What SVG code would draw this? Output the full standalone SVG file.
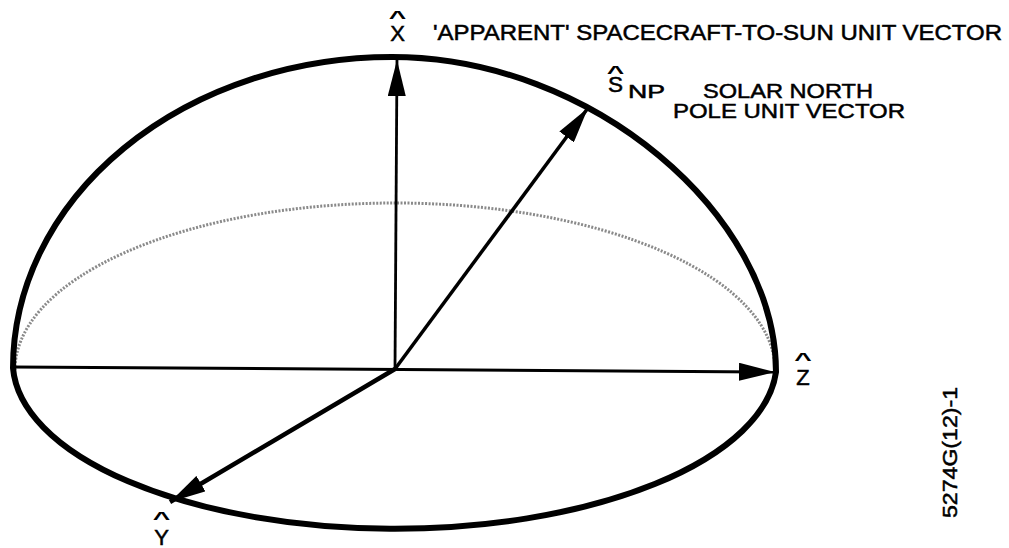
<svg xmlns="http://www.w3.org/2000/svg" width="1009" height="548" viewBox="0 0 1009 548">
<style>
.t{font-family:"Liberation Sans",Arial,sans-serif;font-size:22px;fill:#000;stroke:#000;stroke-width:0.5px}
.hat{font-family:"Liberation Sans",Arial,sans-serif;font-size:24px;font-weight:bold;fill:#000;text-anchor:middle}
.ax{fill:none;stroke:#000;marker-end:url(#ah)}
</style>
<defs>
<marker id="ah" markerUnits="userSpaceOnUse" markerWidth="36" markerHeight="18" viewBox="0 0 36 18" refX="36" refY="9" orient="auto">
<path d="M0,0 L36,9 L0,18 Z" fill="#000"/>
</marker>
</defs>
<rect width="1009" height="548" fill="#fff"/>
<g id="hemisphere">
<path id="equator-hidden" d="M15,370 A380,167 0 0 1 775,370" fill="none" stroke="#8a8a8a" stroke-width="3" stroke-dasharray="2 1.5"/>
<path id="outline" d="M13,368 A379,311 0 0 1 392,57 C592,57 776,215 776,372 A382,167 0 0 1 13,368 Z" fill="none" stroke="#000" stroke-width="6"/>
</g>
<g id="connectors">
<line id="z-axis" class="ax" x1="13" y1="367" x2="775" y2="372" stroke-width="3"/>
<line id="x-axis" class="ax" x1="395" y1="369" x2="397" y2="60" stroke-width="2.8"/>
<line id="snp-vector" class="ax" x1="395" y1="369" x2="588" y2="108" stroke-width="3.5"/>
<line id="y-axis" class="ax" x1="395" y1="369" x2="170" y2="502" stroke-width="4.5"/>
</g>
<g id="label-x">
<text class="hat" transform="translate(397.5,24) scale(1.25,0.75)">^</text>
<text class="t" x="397.5" y="41" text-anchor="middle">X</text>
<text class="t" x="433" y="40" textLength="569" lengthAdjust="spacingAndGlyphs">'APPARENT' SPACECRAFT-TO-SUN UNIT VECTOR</text>
</g>
<g id="label-snp">
<text class="hat" transform="translate(615.5,79) scale(1.25,0.75)">^</text>
<text class="t" x="608" y="92" textLength="15" lengthAdjust="spacingAndGlyphs">S</text>
<text class="t" x="628" y="98" style="font-size:18px" textLength="37" lengthAdjust="spacingAndGlyphs">NP</text>
<text class="t" style="font-size:21px" x="703" y="98" textLength="170" lengthAdjust="spacingAndGlyphs">SOLAR NORTH</text>
<text class="t" style="font-size:21px" x="673" y="118" textLength="232" lengthAdjust="spacingAndGlyphs">POLE UNIT VECTOR</text>
</g>
<g id="label-z">
<text class="hat" transform="translate(803,366) scale(1.25,0.75)">^</text>
<text class="t" x="803" y="385" text-anchor="middle">Z</text>
</g>
<g id="label-y">
<text class="hat" transform="translate(161.5,525) scale(1.25,0.75)">^</text>
<text class="t" x="161.5" y="545" text-anchor="middle">Y</text>
</g>
<g id="figure-id">
<text class="t" transform="translate(957,518) rotate(-90)" style="font-size:20px" textLength="131" lengthAdjust="spacingAndGlyphs">5274G(12)-1</text>
</g>
</svg>
